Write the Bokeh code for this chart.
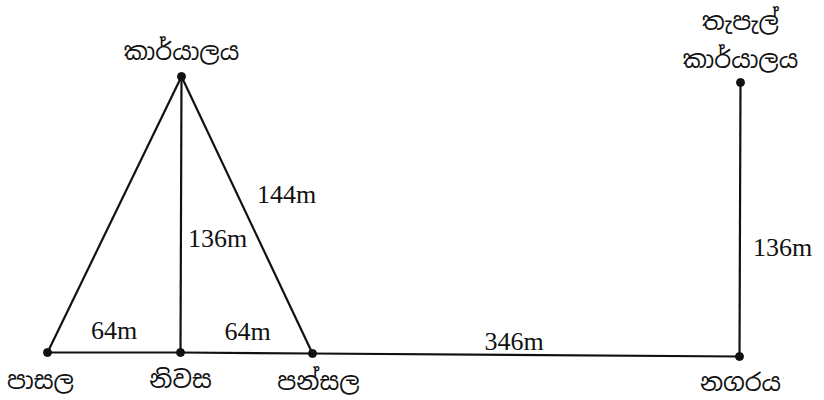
from bokeh.plotting import figure
from bokeh.models import Range1d, ColumnDataSource
from bokeh.core.properties import value
from bokeh.embed import file_html
from bokeh.resources import INLINE

# Diagram nodes (place names) and their drawing positions
node_names = ["පාසල", "නිවස", "පන්සල", "නගරය", "කාර්යාලය", "තැපැල්\nකාර්යාලය"]
node_x = [47, 180, 312, 739, 181, 740]
node_y = [352, 352, 353, 356, 76, 82]

# Edges between nodes and their distance labels
edge_from = [0, 1, 2, 1, 2, 3, 0]
edge_to = [1, 2, 3, 4, 4, 5, 4]
edge_label = ["64m", "64m", "346m", "136m", "144m", "136m", ""]

W, H = 824, 400
p = figure(width=W, height=H, output_backend="svg", toolbar_location=None,
           x_range=Range1d(0, W), y_range=Range1d(H, 0),
           min_border=0, outline_line_color=None)
p.axis.visible = False
p.grid.visible = False
p.background_fill_color = "white"

x0 = [node_x[i] for i in edge_from]
y0 = [node_y[i] for i in edge_from]
x1 = [node_x[i] for i in edge_to]
y1 = [node_y[i] for i in edge_to]
p.segment(x0, y0, x1, y1, line_color="#111111", line_width=2.2)

p.scatter(node_x, node_y, size=8, color="#111111")

# distance labels, placed relative to edge midpoints
lab_dx = [0, 1, -12, 7, 10, 13, 0]
lab_dy = [-22, -22, -14, 24, -21, 28, 0]
lab_align = ["center", "center", "center", "left", "left", "left", "center"]
lx = [(a + b) / 2 + d for a, b, d in zip(x0, x1, lab_dx)]
ly = [(a + b) / 2 + d for a, b, d in zip(y0, y1, lab_dy)]
src = ColumnDataSource(dict(x=lx, y=ly, t=edge_label, a=lab_align))
p.text("x", "y", text="t", source=src, text_align="a", text_baseline="middle",
       text_font=value("Liberation Serif"), text_font_size="26px", text_color="#111111")

# place-name labels (multi-line names split into separate lines)
name_dx = [-7, 0, 6, 1, 0, 0]
name_dy = [28, 27, 28, 26, -25, -23]
line_gap = 38
tx, ty, tt = [], [], []
for nx, ny, name, dx, dy in zip(node_x, node_y, node_names, name_dx, name_dy):
    lines = name.split("\n")
    n = len(lines)
    for k, ln in enumerate(lines):
        tx.append(nx + dx)
        if dy < 0:
            ty.append(ny + dy - (n - 1 - k) * line_gap)
        else:
            ty.append(ny + dy + k * line_gap)
        tt.append(ln)
nsrc = ColumnDataSource(dict(x=tx, y=ty, t=tt))
p.text("x", "y", text="t", source=nsrc, text_align="center", text_baseline="middle",
       text_font=value("Noto Sans Sinhala"), text_font_size="24px",
       text_color="#111111")

open("out.html", "w").write(file_html(p, INLINE))
